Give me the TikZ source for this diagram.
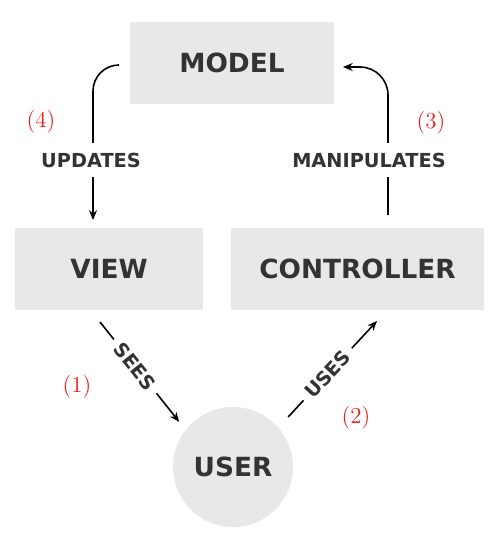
\documentclass[tikz,border=0pt]{standalone}
\usepackage{fontspec}
\newfontfamily\labelfont{DejaVu Sans}
\usetikzlibrary{arrows.meta}
\definecolor{boxgray}{HTML}{E8E8E8}
\definecolor{inkgray}{HTML}{333333}
\definecolor{stepred}{HTML}{EE1C1C}

\begin{document}
\begin{tikzpicture}[x=0.02cm, y=-0.02cm,
    box/.style={fill=boxgray, minimum height=1.64cm, inner sep=0pt, outer sep=0pt,
        text=inkgray, font=\labelfont\bfseries\fontsize{15}{18}\selectfont},
    flow/.style={line width=0.9pt, -{Stealth[length=5.5pt, width=4.5pt]}},
    tag/.style={fill=white, inner xsep=4pt, inner ysep=5.5pt, text=inkgray,
        font=\labelfont\bfseries\fontsize{11}{13}\selectfont},
    stepnum/.style={text=stepred, font=\fontsize{13}{15}\selectfont}]
    \useasboundingbox (0,0) rectangle (500,550);

    % The three parts
    \node[box, minimum width=4.08cm] (model) at (232,63) {MODEL};
    \node[box, minimum width=3.76cm] (view) at (109,269) {VIEW};
    \node[box, minimum width=5.06cm] (controller) at (357.5,269) {CONTROLLER};

    % The user
    \node[box, circle, minimum size=2.4cm] (user) at (233,467) {USER};

    % (1) view -> user
    \draw[flow, shorten >=0.21cm] ([xshift=-0.18cm, yshift=-0.24cm]view.south)
        -- (user.142.5) node[pos=0.41, sloped, tag] {SEES};

    % (2) user -> controller
    \draw[flow, shorten <=0.29cm] (user.41)
        -- ([xshift=0.39cm, yshift=-0.22cm]controller.south) node[midway, sloped, tag] {USES};

    % (3) controller -> model
    \draw[flow, rounded corners=0.56cm] ([xshift=0.61cm, yshift=0.26cm]controller.north)
        |- ([xshift=0.18cm, yshift=-0.08cm]model.east);
    \node[tag] (manip) at (369,160) {MANIPULATES};

    % (4) model -> view
    \draw[flow, rounded corners=0.52cm] ([xshift=-0.24cm, yshift=-0.04cm]model.west)
        -| ([xshift=-0.32cm, yshift=0.16cm]view.north);
    \node[tag] (upd) at (91,160) {UPDATES};

    % Step numbers
    \node[stepnum] (n1) at (77,387) {(1)};
    \node[stepnum] (n2) at (356,418) {(2)};
    \node[stepnum] (n3) at (431,123) {(3)};
    \node[stepnum] (n4) at (41,122) {(4)};
\end{tikzpicture}
\end{document}
